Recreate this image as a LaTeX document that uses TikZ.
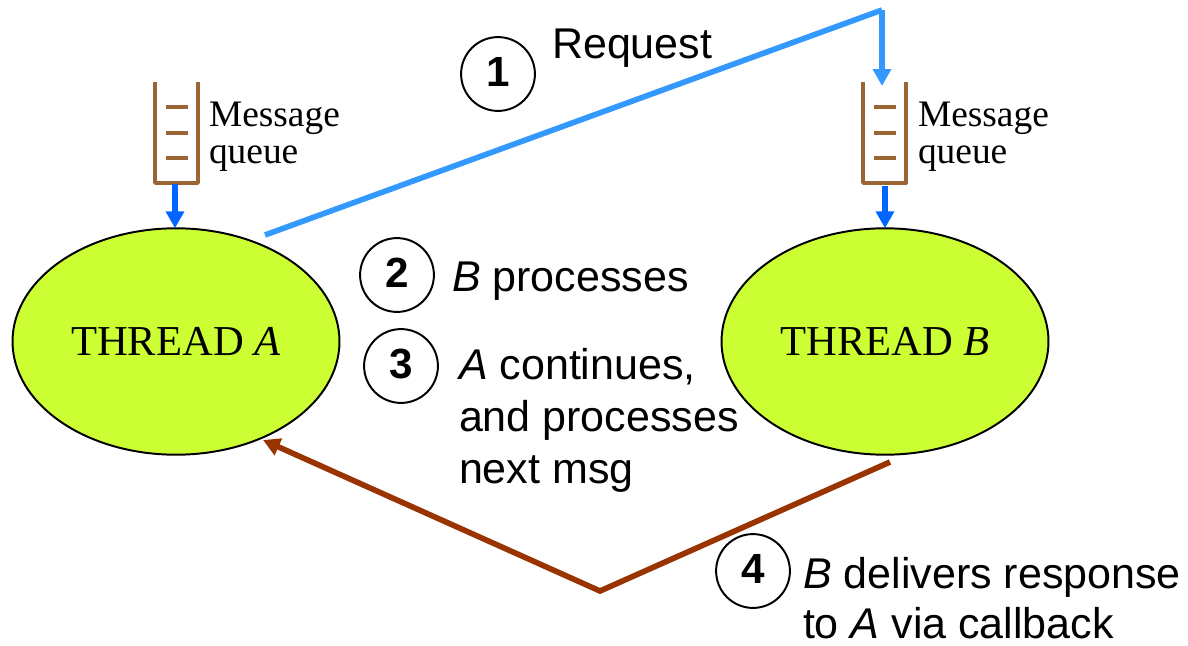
\documentclass[tikz,border=0pt]{standalone}
\usepackage{fontspec}
\setmainfont{Liberation Serif}
\setsansfont{Liberation Sans}
\usetikzlibrary{arrows.meta,shapes.geometric}
\definecolor{threadfill}{HTML}{CCFF33}
\definecolor{reqblue}{HTML}{3399FF}
\definecolor{popblue}{HTML}{0066FF}
\definecolor{respbrown}{HTML}{993300}
\definecolor{queuebrown}{HTML}{996633}
\begin{document}
\begin{tikzpicture}[x=0.025cm,y=-0.025cm,inner sep=0pt,outer sep=0pt,
thread/.style={draw,ellipse,fill=threadfill,line width=1.4pt,minimum width=232.5pt,minimum height=161pt,font=\fontsize{30.3}{32}\selectfont},
stepnum/.style={draw,circle,fill=white,minimum size=52.5pt,line width=1.4pt,text depth=2.5pt,font=\sffamily\bfseries\fontsize{30}{30}\selectfont},
steptext/.style={anchor=west,align=left,font=\sffamily\fontsize{30.6}{37}\selectfont},
queuelabel/.style={anchor=west,align=left,font=\fontsize{26.6}{26}\selectfont},
queueline/.style={draw=queuebrown,line width=2.7pt,line join=round},
poparrow/.style={-{Triangle[length=12pt,width=12.5pt]},draw=popblue,line width=3.8pt},
reqline/.style={draw=reqblue,line width=4pt,line join=miter},
respline/.style={draw=respbrown,line width=4pt,line join=miter}]
\useasboundingbox (0,0) rectangle (1188,645);
\node[thread] (A) at (176,341.5) {THREAD \textit{A}};
\node[thread] (B) at (885,341.5) {THREAD \textit{B}};
% message queues
\draw[queueline] (155,82) -- (155,183) -- (198,183) -- (198,82);
\draw[queueline] (166,107) -- (188,107) (166,133) -- (188,133) (166,158) -- (188,158);
\draw[queueline] (863,82) -- (863,183) -- (906,183) -- (906,82);
\draw[queueline] (874,107) -- (896,107) (874,133) -- (896,133) (874,158) -- (896,158);
\node[queuelabel] (QA) at (209,137) {Message\\queue};
\node[queuelabel] (QB) at (918,137) {Message\\queue};
\coordinate (QAout) at (175,184);
\coordinate (QBout) at (885,186);
\draw[poparrow] (QAout) -- (A.north -| QAout);
\draw[poparrow] (QBout) -- (B.north -| QBout);
% request
\coordinate (Rstart) at (265,235);
\coordinate (Rtop) at (882,10);
\coordinate (Rend) at (882,86);
\draw[reqline] (Rstart) -- (Rtop);
\draw[reqline,-{Triangle[length=12pt,width=12.5pt]}] (Rtop) -- (Rend);
% response
\coordinate (Bstart) at (890,462);
\coordinate (Bkink) at (600,591);
\coordinate (Bend) at (263,440);
\draw[respline,-{Triangle[length=12pt,width=12.5pt]}] (Bstart) -- (Bkink) -- (Bend);
% steps
\node[stepnum] (S1) at (498,74) {1};
\node[stepnum] (S2) at (397,275) {2};
\node[stepnum] (S3) at (401,366) {3};
\node[stepnum] (S4) at (753,571) {4};
\node[steptext] (T1) at (552,48) {Request};
\node[steptext] (T2) at (452,281) {\textit{B} processes};
\node[steptext] (T3) at (459,420) {\textit{A} continues,\\and processes\\next msg};
\node[steptext] (T4) at (803,598) {\textit{B} delivers response\\[-2pt]to \textit{A} via callback};
\end{tikzpicture}
\end{document}
